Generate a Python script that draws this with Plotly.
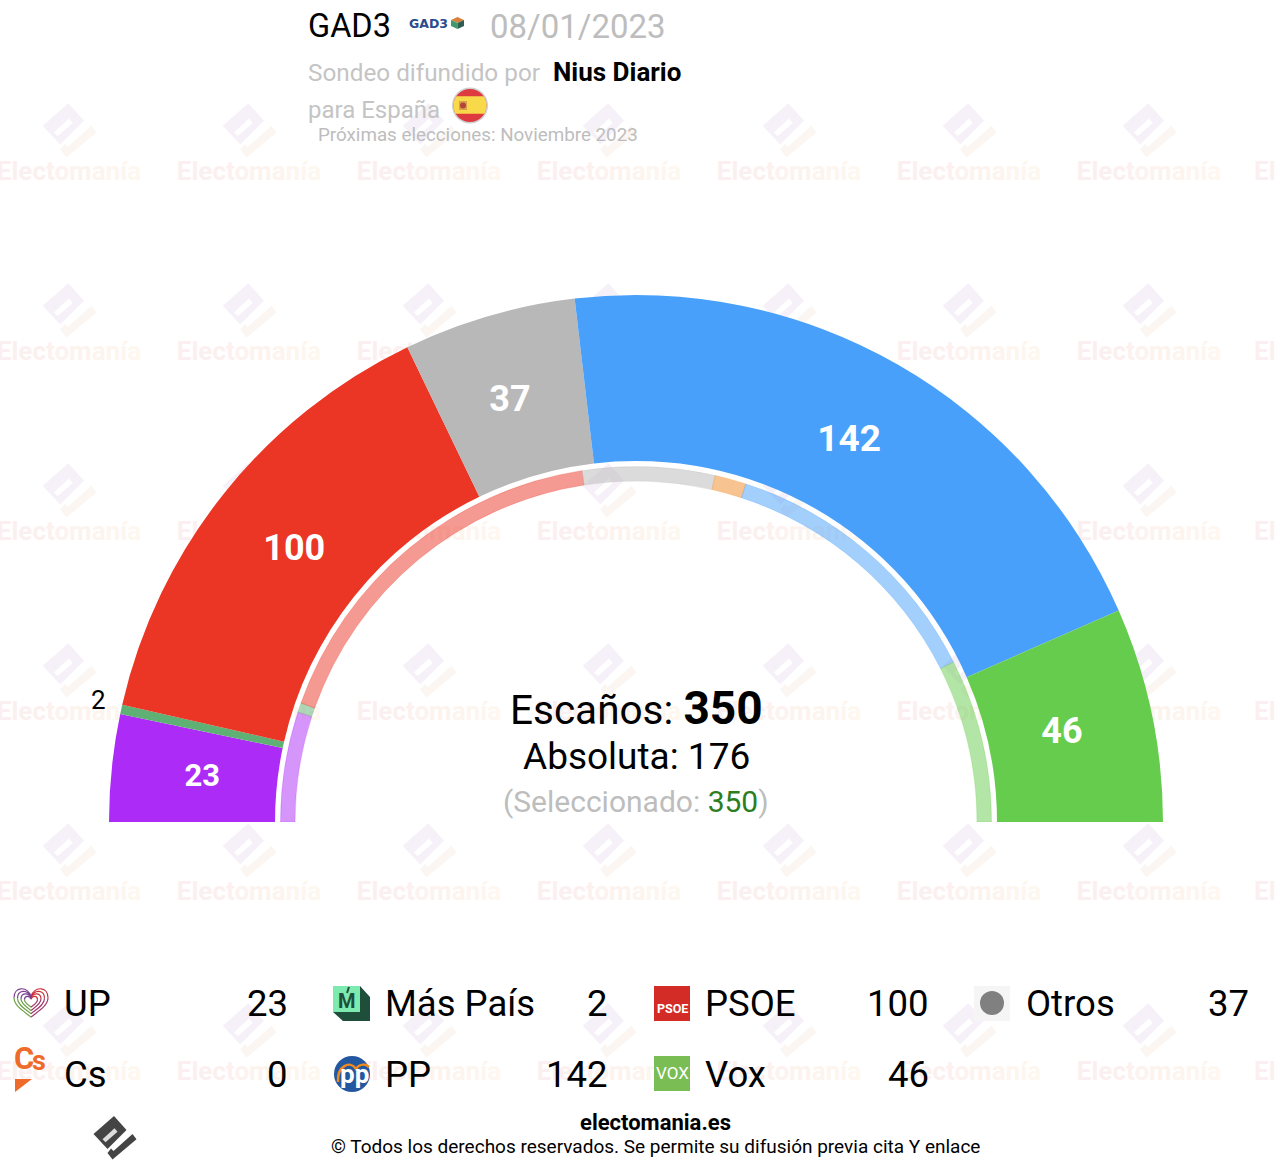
import numpy as np
import plotly.graph_objects as go

# ---------------------- data ----------------------
PARTIES = ["UP", "Más País", "PSOE", "Otros", "Cs", "PP", "Vox"]
SEATS = [23, 2, 100, 37, 0, 142, 46]
PREV_SEATS = [35, 3, 120, 42, 10, 88, 52]  # thin inner ring, previous result
COLORS = ["#AD2BF7", "#5FB075", "#EB3525", "#B8B8B8", "#F08A24", "#48A0FA", "#66CC4D"]
TOTAL = 350
ABSOLUTA = 176

# ---------------------- layout constants (page pixels) ----------------------
W, H = 1276, 1176
CX, CY = 636, 822
R_MAX = 600          # radial axis range, 1 unit = 1 px
RING = (361, 527)
THIN = (341, 355.5)
DEG_PER_SEAT = 180 / TOTAL

# seat label placement in the ring
LABEL_R = [436, 551, 436, 438.5, 0, 435.6, 435]
LABEL_THETA = [5.79, 12.57, 38.4, 73.3, 0, 119.3, 168.33]
LABEL_SIZES = [31, 26, 36, 36, 36, 37, 36]

FONT = "Roboto"
GREY = "#BDBDBD"

shapes = []
annotations = []


def text(x, y, s, size, color="#000000", anchor="left", family=FONT):
    annotations.append(dict(x=x, y=y, xref="x", yref="y", text=s, showarrow=False,
                            xanchor=anchor, yanchor="middle", align=anchor,
                            borderpad=0, borderwidth=0,
                            font=dict(family=family, size=size, color=color)))


def poly(points, fill, layer="above"):
    path = "M" + "L".join(f"{x:.2f},{y:.2f}" for x, y in points) + "Z"
    shapes.append(dict(type="path", path=path, xref="x", yref="y", fillcolor=fill,
                       line=dict(width=0), layer=layer))


def stroke(path, color, width):
    shapes.append(dict(type="path", path=path, xref="x", yref="y",
                       line=dict(color=color, width=width), layer="above"))


def box(x0, y0, x1, y1, fill):
    shapes.append(dict(type="rect", x0=x0, y0=y0, x1=x1, y1=y1, xref="x", yref="y",
                       fillcolor=fill, line=dict(width=0), layer="above"))


def disc(cx, cy, r, fill):
    shapes.append(dict(type="circle", x0=cx - r, y0=cy - r, x1=cx + r, y1=cy + r, xref="x", yref="y",
                       fillcolor=fill, line=dict(width=0), layer="above"))


# Electomanía logo, offsets in px from its centre
LOGO_BODY = [(-0.5, -23), (12, -9), (-7, 10), (-21, -5)]
LOGO_SLOT = [(-12, 0.3), (-9, 3.3), (3, -7.3), (0, -10.7)]
LOGO_HOOK = [(-7, 14), (-2, 20.5), (22, 0.3), (18, -5), (-1, 12), (-3.5, 9.5)]


def logo(cx, cy, k, body, slot, hook, layer):
    poly([(cx + k * a, cy + k * b) for a, b in LOGO_BODY], body, layer)
    poly([(cx + k * a, cy + k * b) for a, b in LOGO_SLOT], slot, layer)
    poly([(cx + k * a, cy + k * b) for a, b in LOGO_HOOK], hook, layer)


# ---------------------- watermark ----------------------
mark_x = [69 + 180 * i for i in range(7)]
mark_y = [173 + 180 * i for i in range(6)]
mark_letters = list("Electomanía")
mark_tints = ["#FBEFF1", "#FBEFF0", "#FBF0F0", "#FCF0EF", "#FCF1EF", "#FCF2EF",
              "#FDF3EE", "#FDF4EE", "#FDF5EE", "#FEF6EE", "#FEF7EF"]
mark_text = "<b>" + "".join(f'<span style="color:{c}">{l}</span>'
                            for l, c in zip(mark_letters, mark_tints)) + "</b>"
tx, ty = [], []
for my in mark_y:
    for mx in mark_x:
        tx.append(mx)
        ty.append(my)
        logo(mx, my - 41, 1.25, "#F6F1F8", "#FFFFFF", "#FBF6F2", "below")

fig = go.Figure()
fig.add_trace(go.Scatter(x=tx, y=ty, mode="text", text=[mark_text] * len(tx), hoverinfo="skip",
                         textposition="middle center", cliponaxis=False,
                         textfont=dict(family=FONT, size=26, color="#FBEFF1")))
# eighth column only shows its first letters at the right edge
fig.add_trace(go.Scatter(x=[1254] * len(mark_y), y=mark_y, mode="text", text=[mark_text] * len(mark_y),
                         hoverinfo="skip", textposition="middle right", cliponaxis=False,
                         textfont=dict(family=FONT, size=26, color="#FBEFF1")))

# ---------------------- the two half rings ----------------------
seats = np.array(SEATS)
prev = np.array(PREV_SEATS)
theta_main = (np.cumsum(seats) - seats / 2) * DEG_PER_SEAT
theta_prev = (np.cumsum(prev) - prev / 2) * DEG_PER_SEAT


def rgba(color, a):
    return f"rgba({int(color[1:3], 16)},{int(color[3:5], 16)},{int(color[5:7], 16)},{a})"


fig.add_trace(go.Barpolar(r=[RING[1] - RING[0]] * len(seats), base=RING[0], theta=theta_main,
                          width=seats * DEG_PER_SEAT, hoverinfo="skip",
                          marker=dict(color=COLORS, line=dict(width=0))))
fig.add_trace(go.Barpolar(r=[THIN[1] - THIN[0]] * len(prev), base=THIN[0], theta=theta_prev,
                          width=prev * DEG_PER_SEAT, hoverinfo="skip",
                          marker=dict(color=[rgba(c, 0.5) for c in COLORS],
                                      line=dict(width=1, color=[rgba(c, 0.25) for c in COLORS]))))

# seat labels; the 2 of Más País does not fit and sits outside the ring
shown = [i for i, v in enumerate(SEATS) if v > 0]
fig.add_trace(go.Scatterpolar(r=[LABEL_R[i] for i in shown],
                              theta=[LABEL_THETA[i] for i in shown],
                              text=[f"<b>{SEATS[i]}</b>" if SEATS[i] >= 5 else str(SEATS[i]) for i in shown],
                              mode="text", hoverinfo="skip", cliponaxis=False,
                              textfont=dict(family=FONT, size=[LABEL_SIZES[i] for i in shown],
                                            color=["#FFFFFF" if SEATS[i] >= 5 else "#000000" for i in shown])))

# ---------------------- centre text ----------------------
text(636, 708, f'Escaños: <b style="font-size:46px">{TOTAL}</b>', 40.5, anchor="center")
text(636, 756, f"Absoluta: {ABSOLUTA}", 37, anchor="center")
text(636, 801, f'(Seleccionado: <span style="color:#2E7D1E">{TOTAL}</span>)', 30, GREY, anchor="center")

# ---------------------- header ----------------------
text(308, 26, "GAD3", 32.5)
text(490, 26, "08/01/2023", 33, GREY)
text(308, 72, "Sondeo difundido por", 24.3, "#C4C4C4")
text(553, 72, "<b>Nius Diario</b>", 26)
text(308, 110, "para España", 24, "#C4C4C4")
text(478, 135, "Próximas elecciones: Noviembre 2023", 18.8, GREY, anchor="center")

# small pollster logo
text(409, 23, "<b>GAD3</b>", 12.5, "#2B4C8C", family="DejaVu Sans")
poly([(451, 20), (457.5, 17), (464, 20), (457.5, 23)], "#D9803A")
poly([(451, 20), (457.5, 23), (457.5, 29), (451, 26)], "#3F9A6B")
poly([(464, 20), (457.5, 23), (457.5, 29), (464, 26)], "#2F5D50")

# flag
disc(470, 105.5, 18, "#CFCFCF")
disc(470, 105.5, 16.5, "#DD3B3F")
ang_a = np.arcsin(9.3 / 16.5)
ang_b = np.arcsin(8.2 / 16.5)
arc_r = np.linspace(-ang_a, ang_b, 12)
arc_l = arc_r[::-1]
poly([(470 + 16.5 * np.cos(a), 105.5 + 16.5 * np.sin(a)) for a in arc_r]
     + [(470 - 16.5 * np.cos(a), 105.5 + 16.5 * np.sin(a)) for a in arc_l], "#F8D94A")
box(459, 101, 467, 110, "#D9A24A")
disc(463, 105.5, 3, "#B5443C")

# ---------------------- legend ----------------------
LEGEND_COLS = [(64, 288), (385, 608), (705, 929), (1026, 1249)]
LEGEND_ROWS = [1003, 1074]
LEGEND_SLOTS = [(0, 0), (1, 0), (2, 0), (3, 0), (0, 1), (1, 1), (2, 1)]
for name, (c, r) in zip(PARTIES, LEGEND_SLOTS):
    text(LEGEND_COLS[c][0], LEGEND_ROWS[r], name, 36.5)
    text(LEGEND_COLS[c][1], LEGEND_ROWS[r], str(SEATS[PARTIES.index(name)]), 36.5, anchor="right")

# UP: nested hearts
for s in (17, 13.5, 10, 6.5):
    hx, hy = 31, 1001
    sy = s * 0.95
    for sign, top, low in ((-1, "#7A3E8F", "#6FA04A"), (1, "#C8313C", "#A03A6C")):
        p0 = f"M{hx},{hy - 0.3 * sy}"
        stroke(p0 + f"C{hx + sign * 0.25 * s},{hy - 0.95 * sy} {hx + sign * s},{hy - 0.9 * sy} {hx + sign * s},{hy - 0.2 * sy}",
               top, 1.2)
        stroke(f"M{hx + sign * s},{hy - 0.2 * sy}C{hx + sign * s},{hy + 0.3 * sy} {hx + sign * 0.4 * s},{hy + 0.65 * sy} {hx},{hy + sy}",
               low, 1.2)

# Más País
poly([(360, 986), (370, 997), (370, 1021), (343, 1021), (333, 1012), (360, 1012)], "#1F4F3A")
box(333, 986, 360, 1012, "#7DEBB0")
text(346.5, 1001, "<b>M</b>", 20, "#1F4F3A", anchor="center")
stroke("M347,993L349,987", "#1F4F3A", 2)

# PSOE
box(654, 986, 690, 1021, "#D32B26")
text(672, 1008, "<b>PSOE</b>", 12.5, "#FFFFFF", anchor="center")

# Otros
box(974, 986, 1010, 1021, "#F5F5F5")
disc(992, 1003, 12, "#808080")

# Cs
text(14, 1058, "<b>C</b>", 31, "#EF6B2C")
text(32, 1061, "<b>s</b>", 27, "#EF6B2C")
poly([(15, 1079), (32, 1079), (15, 1092)], "#EF6B2C")

# PP
disc(352, 1074, 18, "#23579F")
stroke("M338,1082C337,1066 350,1060 356,1069C360,1063 366,1064 369,1067", "#F08A1F", 2.5)
text(354, 1074, "<b>pp</b>", 26, "#FFFFFF", anchor="center")

# Vox
box(654, 1056, 690, 1091, "#7ABD55")
text(672, 1073, "VOX", 17, "#FFFFFF", anchor="center")

# ---------------------- footer ----------------------
logo(114.5, 1139, 1, "#444444", "#DDDDDD", "#444444", "above")
text(655.5, 1122, "<b>electomania.es</b>", 22, anchor="center")
text(655.5, 1146, "© Todos los derechos reservados. Se permite su difusión previa cita Y enlace", 19, anchor="center")

# ---------------------- figure ----------------------
fig.update_layout(
    width=W, height=H, margin=dict(l=0, r=0, t=0, b=0, pad=0),
    paper_bgcolor="#FFFFFF", plot_bgcolor="rgba(0,0,0,0)", showlegend=False,
    font=dict(family=FONT),
    xaxis=dict(range=[0, W], visible=False, fixedrange=True),
    yaxis=dict(range=[H, 0], visible=False, fixedrange=True),
    polar=dict(domain=dict(x=[(CX - R_MAX) / W, (CX + R_MAX) / W],
                           y=[1 - CY / H, 1 - (CY - R_MAX) / H]),
               sector=[0, 180], bgcolor="rgba(0,0,0,0)",
               radialaxis=dict(range=[0, R_MAX], visible=False),
               angularaxis=dict(direction="clockwise", rotation=180, visible=False)),
    shapes=shapes, annotations=annotations,
)
# page body has a default 8px margin, drop it so the chart fills the window
fig.write_html("out.html", config=dict(displayModeBar=False), post_script="document.body.style.margin='0';")
